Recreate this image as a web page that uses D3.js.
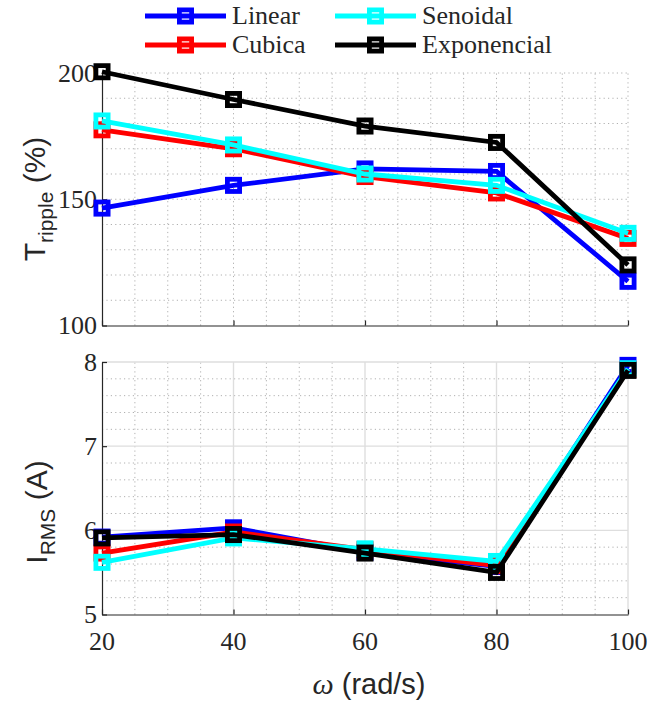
<!DOCTYPE html>
<html>
<head>
<meta charset="utf-8">
<script src="https://cdn.jsdelivr.net/npm/d3@7"></script>
<style>
  body { margin: 0; background: #ffffff; }
  svg { display: block; }
</style>
</head>
<body>
<svg id="chart" width="666" height="702"></svg>
<script>
// Rotor speed (rad/s)
const speeds = [20, 40, 60, 80, 100];

// Series (profile) names and colours
const seriesNames = ["Linear", "Cubica", "Senoidal", "Exponencial"];
const seriesColors = ["#0000ff", "#ff0000", "#00ffff", "#000000"];

// Torque ripple (%)
const rippleLinear      = [146.5, 155.5, 162.0, 161.0, 117.5];
const rippleCubica      = [177.5, 170.0, 159.0, 152.5, 134.5];
const rippleSenoidal    = [181.0, 171.5, 160.0, 155.5, 136.5];
const rippleExponencial = [200.5, 189.5, 179.0, 172.5, 124.0];

// RMS current (A)
const irmsLinear      = [5.92, 6.03, 5.74, 5.57, 7.96];
const irmsCubica      = [5.73, 5.98, 5.77, 5.58, 7.91];
const irmsSenoidal    = [5.62, 5.91, 5.78, 5.63, 7.92];
const irmsExponencial = [5.91, 5.95, 5.73, 5.50, 7.90];

// Tick labels
const xTicks = [20, 40, 60, 80, 100];
const rippleTicks = [100, 150, 200];
const irmsTicks = [5, 6, 7, 8];

const rippleSeries = [rippleLinear, rippleCubica, rippleSenoidal, rippleExponencial];
const irmsSeries = [irmsLinear, irmsCubica, irmsSenoidal, irmsExponencial];

const svg = d3.select("#chart");
const serif = "'Liberation Serif', 'Times New Roman', serif";
const sans = "'Liberation Sans', Arial, Helvetica, sans-serif";
const axisColor = "#262626";
const LW = 4.8;     // line width
const MK = 12.2;    // marker side (centre of stroke)

const x = d3.scaleLinear().domain([20, 100]).range([102, 628]);
const yTop = d3.scaleLinear().domain([100, 200]).range([325.5, 73]);
const yBot = d3.scaleLinear().domain([5, 8]).range([614.5, 362]);

function drawPanel(y, yTickVals, minorX, minorY, majorX, majorY, majorSolid, seriesList) {
  const g = svg.append("g");
  const [y0, y1] = y.range();

  // minor grid (dotted)
  g.selectAll(null).data(minorX).join("line")
    .attr("x1", d => x(d)).attr("x2", d => x(d))
    .attr("y1", y0).attr("y2", y1)
    .attr("stroke", "#b0b0b0").attr("stroke-width", 1)
    .attr("stroke-dasharray", "1.2,3.2");
  g.selectAll(null).data(minorY).join("line")
    .attr("x1", x(20)).attr("x2", x(100))
    .attr("y1", d => y(d)).attr("y2", d => y(d))
    .attr("stroke", "#b0b0b0").attr("stroke-width", 1)
    .attr("stroke-dasharray", "1.2,3.2");

  // major grid
  g.selectAll(null).data(majorX).join("line")
    .attr("x1", d => x(d)).attr("x2", d => x(d))
    .attr("y1", y0).attr("y2", y1)
    .attr("stroke", majorSolid ? "#dedede" : "#b0b0b0").attr("stroke-width", majorSolid ? 1.4 : 1)
    .attr("stroke-dasharray", majorSolid ? null : "1.2,3.2");
  g.selectAll(null).data(majorY).join("line")
    .attr("x1", x(20)).attr("x2", x(100))
    .attr("y1", d => y(d)).attr("y2", d => y(d))
    .attr("stroke", majorSolid ? "#dedede" : "#b0b0b0").attr("stroke-width", majorSolid ? 1.4 : 1)
    .attr("stroke-dasharray", majorSolid ? null : "1.2,3.2");

  // left axis
  const yAxis = d3.axisLeft(y).tickValues(yTickVals).tickSizeInner(-5).tickSizeOuter(0)
    .tickFormat(d3.format("d")).tickPadding(5);
  const ya = g.append("g").attr("transform", `translate(${x(20)},0)`).call(yAxis);
  ya.select(".domain").attr("stroke", axisColor).attr("stroke-width", 1.2);
  ya.selectAll(".tick line").attr("stroke", axisColor).attr("stroke-width", 1.2);
  ya.selectAll(".tick text").attr("font-family", serif).attr("font-size", 26).attr("fill", "#262626");

  // bottom axis
  const xAxis = d3.axisBottom(x).tickValues(xTicks).tickSizeInner(-5).tickSizeOuter(0);
  const xa = g.append("g").attr("transform", `translate(0,${y0})`).call(xAxis);
  xa.select(".domain").attr("stroke", axisColor).attr("stroke-width", 1.2);
  xa.selectAll(".tick line").attr("stroke", axisColor).attr("stroke-width", 1.2);
  xa.selectAll(".tick text").remove();

  // series: each line drawn with its markers
  const line = d3.line().x((d, i) => x(speeds[i])).y(d => y(d));
  seriesList.forEach((vals, k) => {
    const s = g.append("g");
    s.append("path").datum(vals).attr("d", line)
      .attr("fill", "none").attr("stroke", seriesColors[k])
      .attr("stroke-width", LW).attr("stroke-linejoin", "miter");
    s.selectAll(null).data(vals).join("rect")
      .attr("x", (d, i) => x(speeds[i]) - MK / 2)
      .attr("y", d => y(d) - MK / 2)
      .attr("width", MK).attr("height", MK)
      .attr("fill", "none").attr("stroke", seriesColors[k]).attr("stroke-width", LW);
  });
  return g;
}

// Top panel: torque ripple
const topMinorX = d3.range(25, 101, 5);
const topMinorY = d3.range(110, 201, 10);
drawPanel(yTop, rippleTicks, topMinorX, topMinorY, [], [], false, rippleSeries);

// Bottom panel: RMS current
const botMinorX = d3.range(25, 100, 5).filter(v => v % 20 !== 0);
const botMinorY = d3.range(5.2, 8, 0.2).filter(v => Math.abs(v - Math.round(v)) > 0.05);
drawPanel(yBot, irmsTicks, botMinorX, botMinorY, [40, 60, 80, 100], [6, 7, 8], true, irmsSeries);

// x tick labels (bottom panel only)
svg.append("g").selectAll(null).data(xTicks).join("text")
  .attr("x", d => x(d)).attr("y", 650)
  .attr("text-anchor", "middle")
  .attr("font-family", serif).attr("font-size", 26).attr("fill", "#262626")
  .text(d => d);

// x axis title
const xt = svg.append("text").attr("x", 369).attr("y", 694)
  .attr("text-anchor", "middle").attr("fill", "#262626");
xt.append("tspan").attr("font-family", serif).attr("font-style", "italic").attr("font-size", 30).text("ω");
xt.append("tspan").attr("font-family", sans).attr("font-size", 29).text(" (rad/s)");

// y axis titles
function yTitle(cx, cy, main, sub, unit) {
  const t = svg.append("text")
    .attr("transform", `translate(${cx},${cy}) rotate(-90)`)
    .attr("text-anchor", "middle").attr("fill", "#262626")
    .attr("font-family", sans);
  t.append("tspan").attr("font-size", 30).text(main);
  t.append("tspan").attr("font-size", 21).attr("dy", 8).text(sub);
  t.append("tspan").attr("font-size", 30).attr("dy", -8).text(" " + unit);
}
yTitle(45, 199, "T", "ripple", "(%)");
yTitle(47, 512, "I", "RMS", "(A)");

// legend
const legendPos = [[145, 16], [145, 45], [335, 16], [335, 45]];
const lg = svg.append("g");
seriesNames.forEach((name, k) => {
  const [lx, ly] = legendPos[k];
  const item = lg.append("g").attr("transform", `translate(${lx},${ly})`);
  item.append("line").attr("x1", 0).attr("x2", 81).attr("y1", 0).attr("y2", 0)
    .attr("stroke", seriesColors[k]).attr("stroke-width", LW);
  item.append("rect").attr("x", 40.5 - MK / 2).attr("y", -MK / 2)
    .attr("width", MK).attr("height", MK)
    .attr("fill", "none").attr("stroke", seriesColors[k]).attr("stroke-width", LW);
  item.append("text").attr("x", 87).attr("y", 8)
    .attr("font-family", serif).attr("font-size", 26).attr("fill", "#262626")
    .text(name);
});
</script>
</body>
</html>
